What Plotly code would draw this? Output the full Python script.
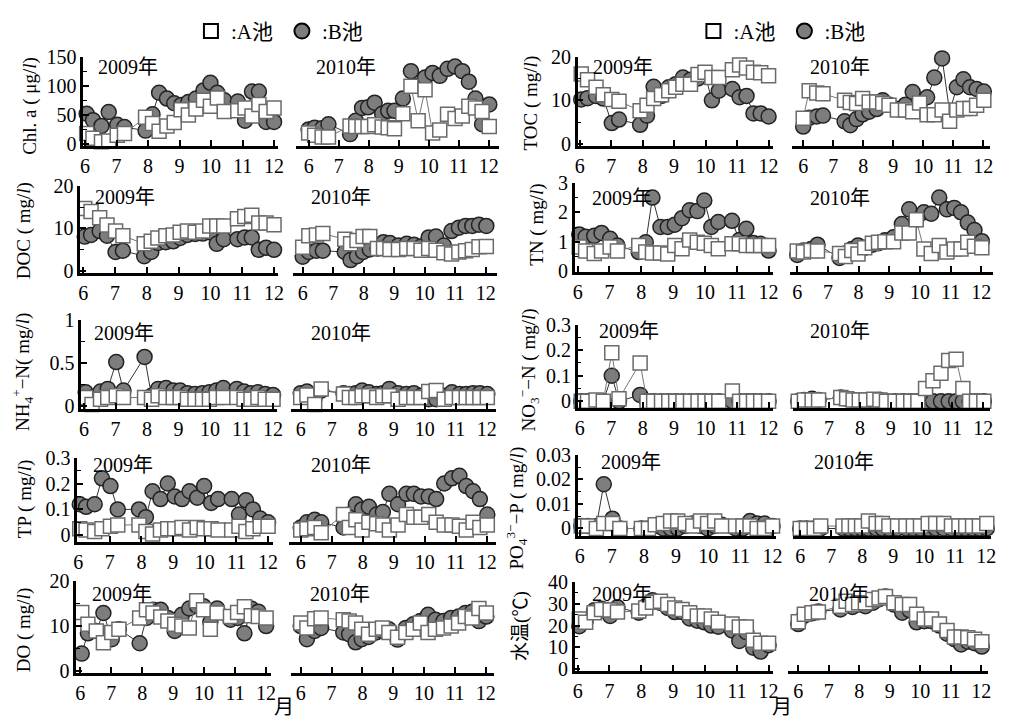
import plotly.graph_objects as go

W, H = 1010, 722
FONT = "Liberation Serif, 'Times New Roman', 'Noto Sans CJK SC', serif"

# sampling dates (month as decimal)
D09 = [6.05, 6.25, 6.52, 6.75, 7.02, 7.25, 7.92, 8.14, 8.35, 8.6, 8.83, 9.05, 9.28, 9.52, 9.76, 9.98, 10.2, 10.42, 10.85, 11.08, 11.3, 11.52, 11.75, 12.0]
D10 = [6.0, 6.2, 6.45, 6.66, 7.38, 7.57, 7.78, 7.98, 8.2, 8.45, 8.65, 8.86, 9.14, 9.41, 9.65, 9.88, 10.13, 10.37, 10.63, 10.88, 11.12, 11.34, 11.56, 11.78, 12.02]
MONTHS = [6, 7, 8, 9, 10, 11, 12]

chla_a_2009 = [18, 10, 4, 5, 15, 18, 46, 35, 22, 31, 37, 59, 50, 60, 75, 65, 79, 56, 57, 62, 48, 68, 56, 62]
chla_b_2009 = [52, 41, 31, 55, 33, 29, 23, 51, 88, 78, 70, 67, 72, 78, 92, 105, 88, 75, 73, 40, 90, 90, 38, 38]
chla_a_2010 = [19, 15, 12, 12, 31, 30, 30, 30, 33, 29, 28, 26, 52, 99, 40, 93, 19, 24, 51, 44, 48, 65, 62, 56, 30]
chla_b_2010 = [25, 28, 27, 34, 17, 40, 62, 63, 71, 52, 57, 57, 78, 125, 100, 114, 122, 117, 129, 133, 125, 107, 78, 34, 68]

toc_a_2009 = [16, 14.7, 13, 11.3, 10.2, 9.8, 7.6, 8.9, 10.4, 11.3, 12.2, 13, 13.7, 13.7, 15.9, 16.4, 15.2, 15.2, 17, 18.1, 17.4, 16.4, 16.3, 15.6]
toc_b_2009 = [10.2, 10.5, 11, 10.4, 4.8, 5.6, 4.4, 6.5, 13.1, 11, 13, 13.7, 15.2, 14.7, 15, 16, 10, 12.2, 12.6, 10.7, 11, 7, 7, 6.3]
toc_a_2010 = [5.9, 12.2, 11.7, 11.5, 10, 9.5, 9.3, 10.4, 9.6, 9.6, 9.3, 8.9, 7.8, 7.8, 7.4, 9.4, 6.7, 6.7, 7.8, 5.2, 7.8, 8.1, 8.1, 8.9, 10]
toc_b_2010 = [4, 6, 6.3, 6.5, 5.2, 4.3, 5.7, 6.8, 7.4, 8, 10, 9, 8, 9, 11.9, 9, 10.7, 15.2, 19.6, 7.4, 13, 14.8, 13, 12.6, 12]

doc_a_2009 = [14.7, 14, 12.5, 10.8, 9.4, 8.3, 6.4, 7, 7.8, 8.3, 8.5, 9.1, 9.4, 9.1, 9.4, 10.6, 10.6, 10.6, 12.3, 12.8, 13.1, 11.3, 11.3, 10.9]
doc_b_2009 = [8.1, 8.5, 9.4, 8.3, 4.5, 4.8, 3.5, 4.5, 6.6, 6.8, 7.0, 7.8, 8.5, 8.7, 8.8, 9.1, 6.4, 7.5, 7.5, 7.9, 7.9, 5, 5.5, 5]
doc_a_2010 = [5.6, 8.3, 8.5, 8.8, 7.5, 6.4, 7.2, 8.1, 8.1, 5.3, 5.3, 5.1, 5.1, 5.3, 5.3, 4.9, 5.3, 4.9, 4.3, 4.0, 4.5, 4.8, 5.1, 5.7, 5.8]
doc_b_2010 = [3.4, 4.5, 4.8, 4.8, 4.5, 2.6, 3.5, 4.5, 5.1, 5.3, 6.8, 6.6, 6.0, 6.4, 6.2, 5.8, 7.9, 8.1, 6.0, 9.4, 10.2, 10.6, 10.6, 10.9, 10.6]

tn_a_2009 = [0.82, 0.69, 0.6, 0.69, 0.82, 0.69, 0.87, 0.65, 0.62, 0.62, 0.58, 0.87, 0.76, 1.06, 0.98, 0.95, 0.87, 0.76, 0.93, 0.93, 0.87, 0.87, 0.87, 0.87]
tn_b_2009 = [1.25, 1.17, 1.2, 1.3, 1.1, 0.87, 0.65, 0.98, 2.5, 1.5, 1.5, 1.58, 1.8, 2.07, 2.04, 2.4, 1.5, 1.67, 1.71, 1.06, 1.44, 0.96, 0.93, 0.7]
tn_a_2010 = [0.69, 0.65, 0.7, 0.69, 0.6, 0.5, 0.7, 0.58, 0.8, 0.95, 0.98, 1.0, 1.0, 1.3, 1.3, 1.75, 0.75, 0.6, 0.87, 0.65, 0.75, 0.75, 0.98, 0.85, 0.8]
tn_b_2010 = [0.55, 0.7, 0.75, 0.9, 0.45, 0.6, 0.75, 0.87, 0.8, 0.9, 0.95, 1.05, 1.15, 1.6, 2.1, 1.75, 2.0, 1.95, 2.5, 2.1, 2.15, 2.0, 1.65, 1.4, 1.02]

nh4_a_2009 = [0.1, 0.02, 0.08, 0.1, 0.12, 0.1, 0.1, 0.08, 0.12, 0.1, 0.1, 0.1, 0.08, 0.08, 0.08, 0.08, 0.1, 0.1, 0.1, 0.08, 0.08, 0.1, 0.08, 0.08]
nh4_b_2009 = [0.16, 0.1, 0.17, 0.2, 0.51, 0.18, 0.57, 0.12, 0.2, 0.21, 0.18, 0.18, 0.15, 0.14, 0.15, 0.16, 0.18, 0.21, 0.2, 0.17, 0.15, 0.16, 0.14, 0.13]
nh4_a_2010 = [0.1, 0.13, 0.02, 0.2, 0.14, 0.1, 0.1, 0.12, 0.12, 0.1, 0.12, 0.12, 0.08, 0.1, 0.1, 0.1, 0.17, 0.18, 0.08, 0.1, 0.1, 0.1, 0.1, 0.1, 0.1]
nh4_b_2010 = [0.15, 0.17, 0.1, 0.18, 0.15, 0.14, 0.15, 0.18, 0.16, 0.14, 0.15, 0.2, 0.15, 0.14, 0.15, 0.12, 0.08, 0.08, 0.12, 0.16, 0.14, 0.14, 0.15, 0.15, 0.14]

no3_a_2009 = [0, 0, 0.005, 0, 0.19, 0.01, 0.15, 0, 0, 0, 0, 0, 0, 0, 0, 0, 0, 0, 0.04, 0, 0, 0, 0, 0]
no3_b_2009 = [0, 0, 0, 0, 0.1, 0, 0.025, 0, 0, 0, 0, 0, 0, 0, 0, 0, 0, 0, 0, 0, 0, 0, 0, 0]
no3_a_2010 = [0, 0.005, 0.005, 0.005, 0.015, 0.01, 0.005, 0.005, 0.005, 0.008, 0.005, 0, 0, 0, 0, 0, 0.05, 0.08, 0.11, 0.16, 0.165, 0.05, 0, 0, 0]
no3_b_2010 = [0, 0.005, 0.01, 0.005, 0.015, 0.01, 0.005, 0, 0, 0, 0.005, 0, 0, 0, 0, 0, 0, 0, 0, 0, 0, 0, 0, 0, 0]

tp_a_2009 = [0.025, 0.02, 0.015, 0.025, 0.035, 0.04, 0.04, 0.015, 0.005, 0.02, 0.025, 0.025, 0.03, 0.02, 0.03, 0.025, 0.025, 0.02, 0.02, 0.035, 0.015, 0.025, 0.035, 0.035]
tp_b_2009 = [0.12, 0.11, 0.12, 0.22, 0.19, 0.1, 0.1, 0.07, 0.17, 0.14, 0.2, 0.15, 0.14, 0.17, 0.145, 0.19, 0.125, 0.14, 0.14, 0.08, 0.135, 0.1, 0.065, 0.05]
tp_a_2010 = [0.02, 0.025, 0.03, 0.01, 0.08, 0.03, 0.06, 0.02, 0.05, 0.045, 0.04, 0.02, 0.04, 0.08, 0.07, 0.07, 0.08, 0.05, 0.04, 0.04, 0.035, 0.02, 0.05, 0.03, 0.04]
tp_b_2010 = [0.03, 0.05, 0.06, 0.05, 0.03, 0.08, 0.12, 0.1, 0.11, 0.08, 0.09, 0.16, 0.12, 0.16, 0.16, 0.15, 0.15, 0.14, 0.2, 0.22, 0.23, 0.19, 0.17, 0.14, 0.08]

po4_a_2009 = [0.001, 0.001, 0.0, 0.002, 0.002, 0.0, 0.0, 0.0, 0.0015, 0.002, 0.003, 0.003, 0.002, 0.001, 0.003, 0.002, 0.003, 0.001, 0.001, 0.001, 0.001, 0.0, 0.0, 0.001]
po4_b_2009 = [0.001, 0.001, 0.001, 0.018, 0.004, 0.0, 0.0, 0.0, 0.001, 0.0, 0.0, 0.0, 0.001, 0.002, 0.001, 0.0, 0.001, 0.0015, 0.0, 0.0, 0.003, 0.002, 0.002, 0.001]
po4_a_2010 = [0.0, 0.0, 0.0, 0.001, 0.001, 0.001, 0.001, 0.001, 0.003, 0.002, 0.002, 0.001, 0.001, 0.001, 0.001, 0.001, 0.002, 0.002, 0.002, 0.001, 0.001, 0.001, 0.001, 0.001, 0.002]
po4_b_2010 = [0.0, 0.0, 0.0, 0.0, 0.0, 0.0, 0.0, 0.0, 0.0, 0.0, 0.0, 0.0, 0.0, 0.0, 0.0, 0.0, 0.0, 0.0, 0.0, 0.0, 0.0, 0.0, 0.0, 0.0, 0.0]

do_a_2009 = [13, 10.4, 8.9, 6.3, 8.6, 9.3, 11.8, 13.6, 12.9, 12, 11.1, 10.4, 10, 9.6, 15.6, 13.6, 9.3, 12.9, 12.1, 13, 14.3, 12.3, 12.1, 11.8]
do_b_2009 = [3.9, 8.4, 8.9, 12.9, 7.1, 9.3, 6.2, 11.8, 13.6, 13.6, 11.8, 8.9, 12.5, 13.9, 14.5, 14.4, 10.9, 13.9, 11.4, 11.8, 8.4, 13.9, 13.2, 10]
do_a_2010 = [10.7, 9.6, 11.6, 11.8, 11.4, 11.1, 10.7, 9.3, 8.2, 9.3, 9.6, 8.6, 7.5, 8.6, 9.3, 10.7, 8.6, 9.3, 9.6, 10.0, 10.7, 12.1, 11.8, 13.9, 12.9]
do_b_2010 = [10, 7.1, 8.9, 9.6, 8.6, 8.2, 6.4, 7.1, 7.6, 8.6, 8.9, 9.3, 7.0, 9.6, 10.4, 11.1, 12.5, 11.4, 11.1, 11.8, 12.1, 12.9, 13.2, 11.1, 12.1]

wt_a_2009 = [23, 21.5, 25.9, 27.4, 27.1, 26.2, 26.7, 28.1, 30.7, 31.1, 29.6, 28.1, 27.4, 25.9, 24.4, 24.4, 23, 21.5, 20.7, 19.3, 19.3, 13.3, 11.9, 11.9]
wt_b_2009 = [19.7, 22, 27, 27.7, 24.4, 28.4, 25.9, 28.9, 31.6, 30.4, 28.1, 26.2, 26.2, 23.3, 22.2, 21.5, 20, 19.5, 17.8, 13.0, 17, 9.9, 8.1, 11]
wt_a_2010 = [21.8, 25.2, 25.9, 26.2, 28.9, 31.1, 29.6, 30.4, 30.4, 31.9, 32.6, 33.3, 30.4, 29.6, 29.6, 25.2, 23, 23, 20.7, 17.8, 14.8, 14.8, 14.4, 13.8, 12.6]
wt_b_2010 = [20.7, 24.5, 25.6, 26.5, 27.4, 30, 28.5, 29.6, 28.9, 30.5, 32.1, 33.3, 29.6, 25.9, 27, 21.5, 22, 22, 20, 16.3, 13.8, 11.4, 12.6, 11.9, 10.4]

LEFT_VARS = [
    ("Chl. a ( μg/<i>l</i>)", 150, 50, (chla_a_2009, chla_b_2009, chla_a_2010, chla_b_2010)),
    ("DOC ( mg/<i>l</i>)", 20, 10, (doc_a_2009, doc_b_2009, doc_a_2010, doc_b_2010)),
    ("NH<sub>4</sub><sup>+</sup>−N( mg/<i>l</i>)", 1, 0.5, (nh4_a_2009, nh4_b_2009, nh4_a_2010, nh4_b_2010)),
    ("TP ( mg/<i>l</i>)", 0.3, 0.1, (tp_a_2009, tp_b_2009, tp_a_2010, tp_b_2010)),
    ("DO ( mg/<i>l</i>)", 20, 10, (do_a_2009, do_b_2009, do_a_2010, do_b_2010)),
]
RIGHT_VARS = [
    ("TOC ( mg/<i>l</i>)", 20, 10, (toc_a_2009, toc_b_2009, toc_a_2010, toc_b_2010)),
    ("TN ( mg/<i>l</i>)", 3, 1, (tn_a_2009, tn_b_2009, tn_a_2010, tn_b_2010)),
    ("NO<sub>3</sub><sup>−</sup>−N ( mg/<i>l</i>)", 0.3, 0.1, (no3_a_2009, no3_b_2009, no3_a_2010, no3_b_2010)),
    ("PO<sub>4</sub><sup>3−</sup>−P ( mg/<i>l</i>)", 0.03, 0.01, (po4_a_2009, po4_b_2009, po4_a_2010, po4_b_2010)),
    ("水温(℃)", 40, 10, (wt_a_2009, wt_b_2009, wt_a_2010, wt_b_2010)),
]

# layout geometry (pixels): top tick, zero level, axis line
ROW_GEOM = {
    "L": [(47, 137, 139), (180, 268, 270), (318, 407, 410), (460, 540, 547), (587, 680, 682)],
    "R": [(47, 137, 139), (177, 268, 269), (323, 402, 409), (457, 533, 541), (588, 678, 680)],
}
# horizontal geometry per panel (pixels): axis start, tick "6", tick "12", axis end
X_GEOM = {
    ("L", 0): [(80, 82, 273, 277), (77, 80, 273, 277), (78, 81, 272, 276), (74, 75, 267, 272), (73, 77, 265, 270)],
    ("L", 1): [(295, 308, 490, 500), (292, 302, 487, 498), (290, 300, 488, 497), (288, 300, 488, 497), (290, 300, 487, 495)],
    ("R", 0): [(580, 582, 773, 777), (577, 580, 773, 777), (580, 582, 773, 777), (580, 582, 777, 780), (577, 580, 773, 777)],
    ("R", 1): [(797, 808, 990, 997), (795, 802, 988, 1000), (798, 803, 990, 997), (798, 805, 993, 998), (793, 803, 988, 995)],
}
TITLE_POS = {"L": [(26, 98), (21, 226), (18, 372), (22, 503), (21, 638)],
             "R": [(533, 95), (538, 220), (530, 370), (518, 512), (522, 633)]}
YEAR_Y = {"L": [58, 192, 332, 468, 600], "R": [58, 193, 330, 465, 600]}
YEAR_X = {("L", 0): [93, 90, 89, 88, 87], ("L", 1): [313, 308, 308, 308, 307],
          ("R", 0): [593, 592, 600, 602, 592], ("R", 1): [813, 813, 813, 817, 812]}


def pxx(x):
    return x / W


def pyy(y):
    return 1 - y / H


SQ = dict(symbol="square", size=14, color="white", line=dict(color="#6a6a6a", width=1.5))
CI = dict(symbol="circle", size=15, color="#7d7d7d", line=dict(color="#222222", width=1.5))

fig = go.Figure()
layout = {}
annotations = []
k = 0
for side, vars_ in (("L", LEFT_VARS), ("R", RIGHT_VARS)):
    for r, (title, ymax, dt, series) in enumerate(vars_):
        top, zero, axis = ROW_GEOM[side][r]
        ymin = -(axis - zero) / (zero - top) * ymax
        for yi in range(2):
            k += 1
            xs = D09 if yi == 0 else D10
            a_vals = series[2 * yi]
            b_vals = series[2 * yi + 1]
            xa = "x" if k == 1 else f"x{k}"
            ya = "y" if k == 1 else f"y{k}"
            fig.add_trace(go.Scatter(x=xs, y=b_vals, mode="lines+markers", xaxis=xa, yaxis=ya,
                                     line=dict(color="#333333", width=1), marker=CI,
                                     cliponaxis=False, showlegend=False))
            fig.add_trace(go.Scatter(x=xs, y=a_vals, mode="lines+markers", xaxis=xa, yaxis=ya,
                                     line=dict(color="#777777", width=1), marker=SQ,
                                     cliponaxis=False, showlegend=False))
            a0, t6, t12, a1 = X_GEOM[(side, yi)][r]
            ppm = (t12 - t6) / 6.0
            xr = [6 - (t6 - a0) / ppm, 12 + (a1 - t12) / ppm]
            xkey = "xaxis" if k == 1 else f"xaxis{k}"
            ykey = "yaxis" if k == 1 else f"yaxis{k}"
            layout[xkey] = dict(domain=[pxx(a0), pxx(a1)], range=xr, anchor=ya,
                                tickvals=MONTHS, ticks="inside", ticklen=6, tickwidth=1.5, tickcolor="black",
                                showline=True, linewidth=3, linecolor="black", showgrid=False, zeroline=False,
                                tickfont=dict(size=20), fixedrange=True)
            ydict = dict(domain=[pyy(axis), pyy(top)], range=[ymin, ymax], anchor=xa,
                         showgrid=False, zeroline=False, fixedrange=True)
            if yi == 0:
                ydict.update(tickvals=[i * dt for i in range(int(round(ymax / dt)) + 1)],
                             ticks="inside", ticklen=6, tickwidth=1.5, tickcolor="black",
                             showline=True, linewidth=2.5, linecolor="black", tickfont=dict(size=20),
                             minor=dict(ticks="inside", ticklen=4, tickwidth=1.2, tickcolor="black",
                                        dtick=dt / 2, tick0=0))
            else:
                ydict.update(showticklabels=False, ticks="", showline=False)
            layout[ykey] = ydict
            annotations.append(dict(x=pxx(YEAR_X[(side, yi)][r]), y=pyy(YEAR_Y[side][r]), xref="paper", yref="paper",
                                    text="2009年" if yi == 0 else "2010年", showarrow=False,
                                    xanchor="left", yanchor="middle", font=dict(size=20)))
        tx, ty = TITLE_POS[side][r]
        annotations.append(dict(x=pxx(tx), y=pyy(ty), xref="paper", yref="paper", text=title,
                                textangle=-90, showarrow=False, xanchor="center", yanchor="middle",
                                font=dict(size=19)))

for mx in (283, 787):
    annotations.append(dict(x=pxx(mx), y=pyy(703), xref="paper", yref="paper", text="月",
                            showarrow=False, xanchor="center", yanchor="top", font=dict(size=20)))

# legends (one above each column)
for lg in ("legend", "legend2"):
    fig.add_trace(go.Scatter(x=[None], y=[None], mode="markers", name=":A池",
                             marker=dict(symbol="square", size=14, color="white", line=dict(color="black", width=2)),
                             legend=lg, showlegend=True))
    fig.add_trace(go.Scatter(x=[None], y=[None], mode="markers", name=":B池",
                             marker=dict(symbol="circle", size=15, color="#7d7d7d", line=dict(color="black", width=2)),
                             legend=lg, showlegend=True))

leg_common = dict(orientation="h", yanchor="middle", xanchor="left", font=dict(size=21, family=FONT),
                  bgcolor="rgba(0,0,0,0)", itemwidth=30, entrywidth=46, entrywidthmode="pixels",
                  tracegroupgap=0)
fig.update_layout(
    width=W, height=H, margin=dict(l=0, r=0, t=0, b=0),
    paper_bgcolor="white", plot_bgcolor="white",
    font=dict(family=FONT, size=20, color="black"),
    annotations=annotations,
    legend=dict(x=pxx(189), y=pyy(21), **leg_common),
    legend2=dict(x=pxx(697), y=pyy(21), **leg_common),
    **layout,
)

fig.write_html("out.html")
